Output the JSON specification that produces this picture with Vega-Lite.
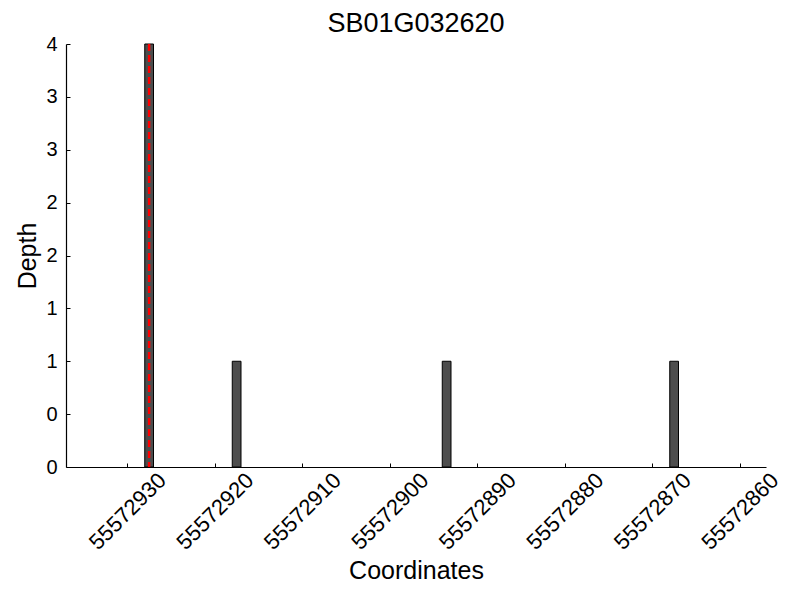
{
  "$schema": "https://vega.github.io/schema/vega-lite/v6.json",
  "width": 700,
  "height": 423,
  "autosize": "none",
  "padding": {"left": 66, "top": 44, "right": 34, "bottom": 133},
  "background": "white",
  "config": {
    "font": "Liberation Sans",
    "view": {"stroke": null},
    "axis": {
      "grid": false,
      "domainColor": "black",
      "domainWidth": 1.2,
      "tickColor": "black",
      "tickSize": -4,
      "tickWidth": 1,
      "labelColor": "black",
      "titleColor": "black",
      "labelFont": "Liberation Sans",
      "titleFont": "Liberation Sans",
      "labelFontSize": 20,
      "titleFontSize": 25,
      "titleFontWeight": "normal"
    }
  },
  "title": {
    "text": "SB01G032620",
    "fontSize": 27,
    "fontWeight": "normal",
    "font": "Liberation Sans",
    "color": "black",
    "anchor": "middle",
    "baseline": "alphabetic",
    "offset": -25
  },
  "datasets": {
    "bars": [
      {"start": 55572927, "end": 55572928, "depth": 4},
      {"start": 55572917, "end": 55572918, "depth": 1},
      {"start": 55572893, "end": 55572894, "depth": 1},
      {"start": 55572867, "end": 55572868, "depth": 1}
    ],
    "marker": [
      {"pos": 55572927.5}
    ]
  },
  "layer": [
    {
      "data": {"name": "bars"},
      "mark": {"type": "bar", "fill": "#4d4d4d", "stroke": "black", "strokeWidth": 1},
      "encoding": {
        "x": {
          "field": "start",
          "type": "quantitative",
          "scale": {"domain": [55572857, 55572937], "reverse": true, "nice": false, "zero": false},
          "axis": {
            "title": "Coordinates",
            "values": [55572860, 55572870, 55572880, 55572890, 55572900, 55572910, 55572920, 55572930],
            "format": "d",
            "labelAngle": -45,
            "labelAlign": "center",
            "labelBaseline": "middle",
            "labelFontSize": 22,
            "labelPadding": 48,
            "titleY": 111,
            "titleBaseline": "alphabetic"
          }
        },
        "x2": {"field": "end"},
        "y": {
          "field": "depth",
          "type": "quantitative",
          "scale": {"domain": [0, 4], "nice": false},
          "axis": {
            "title": "Depth",
            "values": [0, 0.5, 1, 1.5, 2, 2.5, 3, 3.5, 4],
            "labelExpr": "floor(datum.value)",
            "labelPadding": 13,
            "titleX": -31,
            "titleBaseline": "alphabetic"
          }
        },
        "y2": {"datum": 0}
      }
    },
    {
      "data": {"name": "marker"},
      "mark": {"type": "rule", "color": "#ff0000", "strokeWidth": 2.5, "strokeDash": [7, 4]},
      "encoding": {
        "x": {"field": "pos", "type": "quantitative"}
      }
    }
  ]
}
